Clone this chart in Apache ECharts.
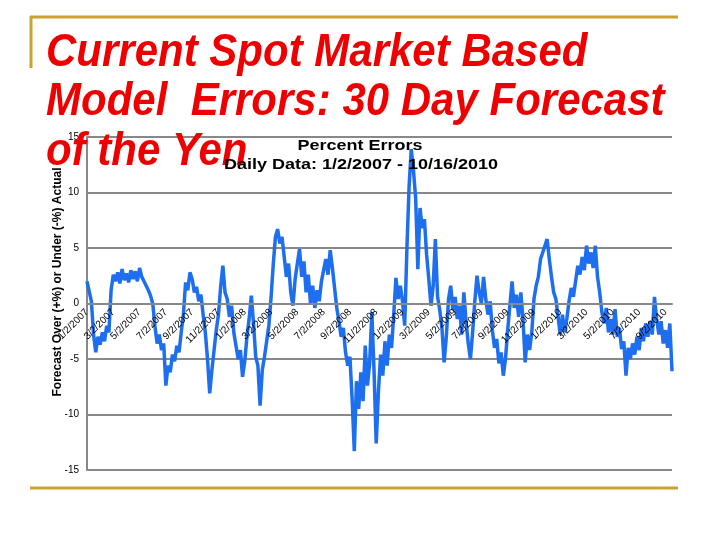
<!DOCTYPE html>
<html><head><meta charset="utf-8">
<script src="https://cdn.jsdelivr.net/npm/echarts@6/dist/echarts.min.js"></script>
<style>html,body{margin:0;padding:0;background:#fff}#c{width:720px;height:540px}</style>
</head><body><div id="c"></div>
<script>
const slideTitleLines = ['Current Spot Market Based', 'Model  Errors: 30 Day Forecast', 'of the Yen'];
const chartTitle = 'Percent Errors';
const chartSubtitle = 'Daily Data: 1/2/2007 - 10/16/2010';
const yAxisName = 'Forecast Over (+%) or Under (-%) Actual';
const yTicks = [-15, -10, -5, 0, 5, 10, 15];
const tickLabels = ['1/2/2007','3/2/2007','5/2/2007','7/2/2007','9/2/2007','11/2/2007',
  '1/2/2008','3/2/2008','5/2/2008','7/2/2008','9/2/2008','11/2/2008',
  '1/2/2009','3/2/2009','5/2/2009','7/2/2009','9/2/2009','11/2/2009',
  '1/2/2010','3/2/2010','5/2/2010','7/2/2010','9/2/2010'];
const pointsPerTick = 12;
const errors = [
  2.0, 1.1, 0.2, -2.8, -4.4, -3.0, -3.7, -2.6, -3.4, -2.0, -2.6, 1.2,
  2.6, 2.0, 2.8, 1.8, 3.1, 2.1, 2.7, 1.9, 3.0, 2.2, 2.9, 2.0,
  3.2, 2.4, 2.0, 1.6, 1.2, 0.7, 0.0, -2.0, -3.6, -2.8, -4.2, -3.6,
  -7.4, -5.6, -6.2, -4.6, -5.2, -3.8, -4.4, -2.6, -1.0, 1.9, 1.2, 2.8,
  2.2, 1.0, 1.5, 0.2, 0.8, -1.0, -2.6, -5.0, -8.1, -6.0, -4.2, -2.4,
  -1.0, 1.5, 3.4, 1.0, 0.4, -1.2, -0.2, -2.6, -3.8, -5.0, -4.2, -6.6,
  -5.2, -3.0, -1.4, 0.7, -1.8, -4.8, -5.6, -9.2, -6.0, -4.8, -3.4, -2.0,
  0.5, 3.5, 6.0, 6.7, 5.4, 6.0, 4.2, 2.4, 3.6, 1.0, -0.2, 2.2,
  3.6, 4.9, 2.4, 3.8, 1.0, 2.6, 0.0, 1.6, -0.4, 1.2, 0.2, 2.0,
  3.0, 4.0, 2.6, 4.8, 3.2, 1.4, -0.4, -1.6, -3.0, -2.2, -4.4, -5.6,
  -4.8, -8.6, -13.3, -7.0, -9.5, -6.2, -8.8, -3.8, -7.4, -5.4, -0.8, -6.0,
  -12.6, -8.0, -4.6, -6.5, -3.4, -5.6, -2.8, -4.0, -1.0, 2.3, 0.4, 1.6,
  0.2, -2.0, 4.9, 10.5, 13.9, 12.0, 9.5, 3.1, 8.6, 6.8, 7.6, 4.4,
  2.2, -0.2, 1.6, 5.8, 0.6, -0.6, -2.2, -5.3, -3.0, 0.4, 1.6, -0.6,
  0.6, -1.4, -0.2, -2.8, 1.0, -1.6, -3.6, -5.0, -2.6, 0.2, 2.5, 1.0,
  0.0, 2.4, 0.4, -1.0, 0.2, -2.4, -4.0, -3.2, -5.4, -4.4, -6.5, -5.0,
  -2.4, -0.2, 2.0, -0.4, 0.8, -1.2, 1.0, -1.4, -5.3, -2.8, -4.2, -2.6,
  0.4, 1.6, 2.4, 4.0, 4.6, 5.2, 5.8, 4.0, 2.4, 1.0, 0.4, -1.2,
  -2.8, -1.0, -2.6, -1.4, 0.2, 1.4, 0.6, 2.0, 3.4, 2.6, 4.2, 3.0,
  5.2, 3.6, 4.6, 3.2, 5.2, 2.4, 1.0, -0.8, -1.8, -0.4, -2.6, -1.4,
  -2.8, -0.5, -3.0, -2.2, -4.1, -3.4, -6.5, -4.0, -5.0, -3.6, -4.6, -3.0,
  -4.2, -2.2, -3.4, -1.8, -3.0, -1.6, -2.8, 0.6, -1.4, -2.8, -1.6, -3.6, -2.4, -4.0, -1.8, -6.1
];
const categories = errors.map((_, i) => (i % pointsPerTick === 0 && tickLabels[i / pointsPerTick]) ? tickLabels[i / pointsPerTick] : '');

const FONT = '"Liberation Sans", Arial, sans-serif';
const GOLD = '#C9A230';
const RED = '#EE0000';
const GRID = '#888888';
const GRID_TOP = 137, GRID_BOTTOM = 70, H = 540;

const chart = echarts.init(document.getElementById('c'), null, {renderer: 'canvas'});
const titleTops = [30, 79, 129];
const graphics = [
  {type: 'line', shape: {x1: 30, y1: 17, x2: 678, y2: 17}, style: {stroke: GOLD, lineWidth: 3}, z: 10},
  {type: 'line', shape: {x1: 31, y1: 16, x2: 31, y2: 68}, style: {stroke: GOLD, lineWidth: 3}, z: 10},
  {type: 'line', shape: {x1: 30, y1: 488, x2: 678, y2: 488}, style: {stroke: GOLD, lineWidth: 3}, z: 10}
];
slideTitleLines.forEach((t, k) => {
  graphics.push({type: 'text', x: 46, y: titleTops[k], scaleY: 1.12, z: 1,
    style: {text: t, font: 'italic bold 42px ' + FONT, fill: RED}});
});
graphics.push({type: 'text', x: 360, y: 138, scaleX: 1.2, z: 20,
  style: {text: chartTitle, font: 'bold 15px ' + FONT, fill: '#000', textAlign: 'center'}});
graphics.push({type: 'text', x: 361, y: 157, scaleX: 1.2, z: 20,
  style: {text: chartSubtitle, font: 'bold 15px ' + FONT, fill: '#000', textAlign: 'center'}});
graphics.push({type: 'text', x: 58, y: 282, rotation: Math.PI / 2, z: 20,
  style: {text: yAxisName, font: 'bold 12px ' + FONT, fill: '#000', textAlign: 'center', textVerticalAlign: 'middle'}});

// place the category axis on the zero line of the value axis
const plotH = H - GRID_TOP - GRID_BOTTOM;
const yMin = yTicks[0], yMax = yTicks[yTicks.length - 1];
const zeroOffset = -plotH * (0 - yMin) / (yMax - yMin);

chart.setOption({
  backgroundColor: '#fff',
  animation: false,
  graphic: graphics,
  grid: {left: 87, right: 48, top: GRID_TOP, bottom: GRID_BOTTOM, containLabel: false},
  xAxis: {
    type: 'category', data: categories, boundaryGap: false, z: 5,
    offset: zeroOffset,
    axisLine: {onZero: false, lineStyle: {color: GRID, width: 2}},
    axisTick: {show: false},
    axisLabel: {interval: pointsPerTick - 1, rotate: 45, margin: 7, fontSize: 10, color: '#000', fontFamily: FONT},
    splitLine: {show: false}
  },
  yAxis: {
    type: 'value', min: yMin, max: yMax, interval: 5,
    axisLine: {show: true, lineStyle: {color: GRID, width: 2}},
    axisTick: {show: false},
    axisLabel: {fontSize: 10, color: '#000', margin: 8, fontFamily: FONT},
    splitLine: {lineStyle: {color: GRID, width: 2}}
  },
  series: [{
    type: 'line', data: errors, showSymbol: false, symbol: 'none', z: 3,
    lineStyle: {color: '#1E6EF0', width: 3.5}
  }]
});
</script></body></html>
